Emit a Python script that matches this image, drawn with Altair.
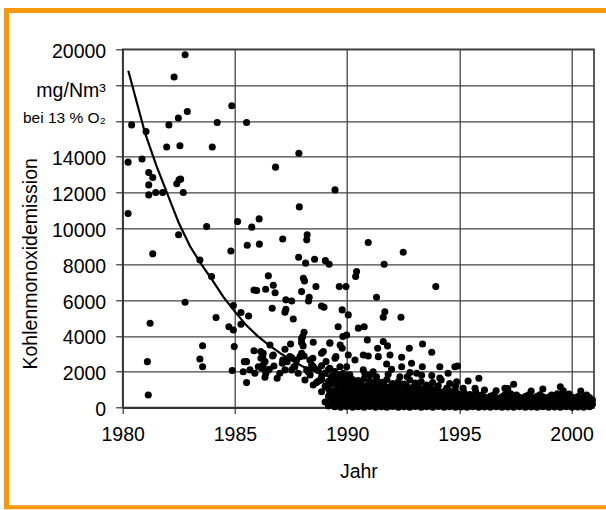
import altair as alt
import pandas as pd

# Individual plant measurements (year, CO emission in mg/Nm3 at 13 % O2)
points_1980_1986 = [
    (1980.24, 13700), (1980.24, 10830), (1980.40, 15780), (1980.86, 13870),
    (1981.04, 15410), (1981.10, 2560), (1981.14, 700), (1981.16, 13120),
    (1981.16, 12430), (1981.16, 11870), (1981.22, 4700), (1981.34, 12840),
    (1981.34, 8580), (1981.47, 12000), (1981.78, 12000), (1981.96, 14540),
    (1982.06, 15780), (1982.29, 18450), (1982.41, 12490), (1982.48, 16160),
    (1982.49, 9650), (1982.51, 12710), (1982.58, 12750), (1982.55, 14610),
    (1982.70, 12000), (1982.78, 19700), (1982.78, 5880), (1982.88, 16530),
    (1983.44, 8240), (1983.44, 2710), (1983.56, 3450), (1983.56, 2280),
    (1983.74, 10100), (1983.96, 7310), (1983.99, 14540), (1984.16, 5020),
    (1984.21, 15910), (1984.73, 4510), (1984.82, 8740), (1984.86, 16850),
    (1984.88, 2060), (1984.93, 5690), (1984.93, 4330), (1984.97, 3400),
    (1985.12, 10380), (1985.27, 5300), (1985.27, 4650), (1985.37, 2000),
    (1985.42, 2560), (1985.52, 15910), (1985.52, 1390), (1985.55, 9060),
    (1985.61, 5110), (1985.75, 10070), (1985.85, 6560), (1985.85, 3170),
    (1985.52, 2560), (1985.67, 2100), (1985.89, 1910),
]

points_1986_1990 = [
    (1985.97, 6530), (1986.08, 10530), (1986.09, 9120), (1986.15, 3120),
    (1986.19, 2190), (1986.24, 2840), (1986.26, 2370), (1986.37, 6600),
    (1986.38, 1910), (1986.49, 7350), (1986.49, 2100), (1986.56, 3490),
    (1986.34, 1690), (1986.66, 5540), (1986.68, 2880), (1986.71, 6830),
    (1986.71, 2930), (1986.74, 2320), (1986.79, 6410), (1986.81, 13420),
    (1986.88, 1630), (1986.26, 3030), (1986.16, 2750), (1986.34, 2560),
    (1986.04, 2280), (1986.53, 2130), (1987.00, 1910), (1987.11, 2470),
    (1987.13, 9410), (1987.13, 2650), (1987.23, 3250), (1987.23, 5320),
    (1987.27, 6010), (1987.27, 5490), (1987.33, 2560), (1987.30, 2650),
    (1987.45, 2840), (1987.23, 2100), (1987.48, 3550), (1987.53, 5950),
    (1987.53, 2780), (1987.53, 2100), (1987.60, 4940), (1987.63, 2280),
    (1987.67, 2280), (1987.75, 2650), (1987.82, 1910), (1987.84, 8390),
    (1987.85, 14200), (1987.87, 11200), (1987.90, 2840), (1987.97, 6470),
    (1987.97, 3830), (1987.97, 3620), (1987.97, 3030), (1988.02, 3960),
    (1988.04, 3440), (1988.05, 7220), (1988.08, 4200), (1988.08, 2880),
    (1988.10, 7070), (1988.12, 1540), (1988.15, 8060), (1988.20, 9360),
    (1988.20, 2100), (1988.22, 9640), (1988.27, 2000), (1988.28, 5950),
    (1988.31, 6160), (1988.34, 2650), (1988.35, 1820), (1988.42, 2370),
    (1988.47, 2750), (1988.49, 3640), (1988.49, 1260), (1988.50, 2280),
    (1988.55, 8280), (1988.61, 6750), (1988.64, 1390), (1988.67, 2100),
    (1988.86, 5670), (1988.86, 3030), (1988.86, 1540), (1988.94, 3120),
    (1988.97, 5600), (1989.03, 8200), (1989.06, 2560), (1989.09, 1160),
    (1989.20, 8000), (1989.23, 3620), (1989.23, 3590), (1989.23, 2190),
    (1989.23, 790), (1989.31, 420), (1989.46, 12150), (1989.46, 2750),
    (1989.50, 2840), (1989.53, 600), (1989.60, 4510), (1989.65, 6750),
    (1989.68, 2280), (1989.69, 3490), (1989.78, 5450), (1989.78, 3310),
    (1989.81, 3960), (1989.83, 1910), (1989.90, 230), (1989.95, 6750),
    (1989.98, 4050), (1989.98, 2280),
]

points_1990_1996 = [
    (1990.05, 5170), (1990.05, 2930), (1990.12, 1820), (1990.35, 2650),
    (1990.38, 7310), (1990.42, 7590), (1990.50, 4430), (1990.72, 2930),
    (1990.72, 2100), (1990.76, 4510), (1990.90, 3770), (1990.94, 9210),
    (1990.94, 2880), (1991.02, 1820), (1991.31, 6160), (1991.31, 1720),
    (1991.36, 3310), (1991.39, 2840), (1991.61, 5040), (1991.61, 3680),
    (1991.65, 8000), (1991.68, 5350), (1991.76, 2430), (1991.80, 3440),
    (1991.91, 2930), (1991.98, 2130), (1992.35, 1720), (1992.40, 5040),
    (1992.43, 2810), (1992.43, 2280), (1992.50, 8670), (1992.68, 1720),
    (1992.77, 3310), (1992.87, 2470), (1993.10, 1910), (1993.35, 2280),
    (1993.36, 3550), (1993.77, 3080), (1993.77, 1780), (1993.95, 6750),
    (1994.13, 2280), (1994.50, 1910), (1994.80, 2280), (1994.92, 2320),
    (1994.88, 1440), (1995.39, 1480), (1995.87, 1630), (1995.17, 1070),
    (1995.70, 1070), (1990.79, 1900), (1991.16, 2000), (1991.83, 1850),
    (1992.80, 1950), (1993.32, 1800), (1994.13, 1650),
]

# Densely packed measurements near the bottom, one column of values per date
dense_1989_1995 = [
    (1988.72, [1480, 2060]),
    (1988.86, [880, 1720, 2330]),
    (1989.02, [310, 1180, 1930]),
    (1989.17, [90, 620, 1040, 1470, 2120]),
    (1989.31, [260, 790, 1320, 1760]),
    (1989.45, [40, 470, 960, 1530, 2010]),
    (1989.58, [210, 690, 1210, 1690]),
    (1989.71, [20, 410, 880, 1370, 1840]),
    (1989.84, [160, 620, 1090, 1570]),
    (1989.97, [60, 340, 790, 1260, 1660]),
    (1990.11, [190, 560, 1010, 1420]),
    (1990.24, [10, 310, 720, 1140, 1560]),
    (1990.37, [110, 490, 910, 1290]),
    (1990.49, [40, 360, 740, 1120, 1510]),
    (1990.62, [210, 560, 940, 1360]),
    (1990.76, [20, 340, 710, 1090, 1620]),
    (1990.89, [140, 510, 860, 1240]),
    (1991.01, [60, 360, 690, 1060, 1460]),
    (1991.14, [190, 540, 910, 1310]),
    (1991.27, [10, 290, 660, 990, 1510]),
    (1991.39, [160, 460, 810, 1190]),
    (1991.52, [40, 340, 710, 1040, 1410]),
    (1991.64, [210, 510, 890, 1260]),
    (1991.77, [20, 310, 640, 1010, 1560]),
    (1991.90, [140, 460, 790, 1160]),
    (1992.02, [60, 340, 690, 1010, 1340]),
    (1992.15, [190, 510, 840, 1210]),
    (1992.28, [10, 310, 610, 960, 1440]),
    (1992.41, [160, 440, 760, 1090]),
    (1992.53, [40, 360, 660, 990, 1310]),
    (1992.66, [210, 490, 840, 1190]),
    (1992.79, [20, 290, 610, 940, 1540]),
    (1992.91, [140, 460, 790, 1110]),
    (1993.04, [60, 340, 660, 990, 1360]),
    (1993.17, [190, 510, 810, 1140]),
    (1993.30, [10, 310, 590, 910, 1440]),
    (1993.42, [160, 440, 760, 1060]),
    (1993.55, [40, 360, 640, 990, 1260]),
    (1993.68, [210, 490, 810, 1140]),
    (1993.81, [20, 310, 590, 890, 1390]),
    (1993.93, [140, 460, 710, 1010]),
    (1994.06, [60, 340, 640, 940, 1210]),
    (1994.19, [190, 510, 790, 1540]),
    (1994.32, [10, 290, 610, 890]),
    (1994.44, [160, 440, 760, 1090]),
    (1994.57, [40, 360, 640, 940, 1340]),
    (1994.70, [210, 490, 810]),
    (1994.83, [20, 310, 590, 910, 1190]),
    (1994.95, [140, 460, 740]),
]

dense_1995_2001 = [
    (1995.08, [30, 330, 610]),
    (1995.21, [170, 460, 830]),
    (1995.34, [20, 300, 590]),
    (1995.47, [150, 440, 720]),
    (1995.60, [40, 320, 600]),
    (1995.73, [180, 470, 860]),
    (1995.86, [10, 290, 560]),
    (1995.99, [160, 430, 690]),
    (1996.12, [30, 310, 580, 980]),
    (1996.25, [170, 450]),
    (1996.38, [20, 300, 620]),
    (1996.51, [150, 430, 700]),
    (1996.64, [40, 320, 560, 940]),
    (1996.77, [180, 450]),
    (1996.90, [10, 290, 600]),
    (1997.03, [160, 440, 730, 1070]),
    (1997.16, [30, 310, 590, 1060]),
    (1997.29, [170, 460, 760]),
    (1997.42, [20, 300, 580, 1300]),
    (1997.55, [150, 430, 700]),
    (1997.68, [40, 320, 570]),
    (1997.81, [180, 460]),
    (1997.94, [10, 290, 610]),
    (1998.07, [160, 440, 700]),
    (1998.20, [30, 310, 590, 920]),
    (1998.33, [170, 450]),
    (1998.46, [20, 300, 620]),
    (1998.59, [150, 430, 710]),
    (1998.72, [40, 320, 600, 1030]),
    (1998.85, [180, 460]),
    (1998.98, [10, 290, 580]),
    (1999.11, [160, 440, 700]),
    (1999.24, [30, 310, 600]),
    (1999.37, [170, 450, 760]),
    (1999.50, [20, 300, 590, 1160]),
    (1999.63, [150, 430, 710, 940]),
    (1999.76, [40, 320, 600]),
    (1999.89, [180, 460, 750]),
    (2000.02, [10, 290, 590]),
    (2000.15, [160, 440]),
    (2000.28, [30, 310, 610]),
    (2000.41, [170, 450, 920]),
    (2000.54, [20, 300, 580]),
    (2000.67, [150, 430, 700]),
    (2000.80, [40, 320, 560]),
    (2000.93, [180, 420]),
]

# Fitted decay curve
curve_years = [1980.25, 1981.0, 1981.5, 1982.0, 1982.5, 1983.0, 1983.5, 1984.0,
               1984.5, 1985.0, 1985.5, 1986.0, 1986.5, 1987.0, 1987.5, 1988.0,
               1988.5, 1989.0, 1989.5, 1990.0, 1990.5, 1991.0, 1991.5, 1992.0,
               1992.5, 1993.0]
curve_values = [18800, 15300, 13500, 11900, 10300, 9000, 8000, 7100,
                6150, 5350, 4600, 4000, 3500, 3050, 2650, 2300,
                2050, 1800, 1600, 1400, 1250, 1100, 980, 870,
                780, 700]

x_ticks = [1980, 1985, 1990, 1995, 2000]
y_ticks = [0, 2000, 4000, 6000, 8000, 10000, 12000, 14000, 16000, 18000, 20000]

# Unit annotation placed in the tick-label column of the y axis
unit_values = [18000, 16000]
unit_labels = ["mg/Nm³", "bei 13 % O₂"]
unit_sizes = [19.5, 15.5]
unit_shift = [6, -3]

rows = [{"jahr": j, "wert": w} for j, w in points_1980_1986 + points_1986_1990 + points_1990_1996]
for j, werte in dense_1989_1995 + dense_1995_2001:
    rows.extend({"jahr": j, "wert": w} for w in werte)
df_points = pd.DataFrame(rows)
df_curve = pd.DataFrame({"jahr": curve_years, "wert": curve_values})
df_units = pd.DataFrame({"wert": unit_values, "text": unit_labels})

FONT = "Liberation Sans"
ORANGE = "#F7980A"

x_enc = alt.X(
    "jahr:Q",
    scale=alt.Scale(domain=[1980, 2001], nice=False, zero=False),
    axis=alt.Axis(
        values=x_ticks, format="d", title="Jahr", grid=True,
        tickSize=6, labelPadding=12, titlePadding=18,
        domainWidth=2.2, labelFlush=False, labelOverlap=False,
    ),
)
y_enc = alt.Y(
    "wert:Q",
    scale=alt.Scale(domain=[0, 20000], nice=False),
    axis=alt.Axis(
        values=y_ticks, tickCount=11, grid=True, tickSize=7, labelPadding=10,
        labelOverlap=False, labelFlush=False, labelOffset=2,
        labelExpr="(datum.value == 18000 || datum.value == 16000) ? '' : format(datum.value, 'd')",
        title="Kohlenmonoxidemission", titleAngle=270, titleAlign="center",
        titleBaseline="middle", titleX=-92, titleY=214,
    ),
)

points = alt.Chart(df_points).mark_circle(size=50, color="black", opacity=1).encode(x=x_enc, y=y_enc)
curve = alt.Chart(df_curve).mark_line(color="black", strokeWidth=2.2).encode(x=x_enc, y=y_enc)

unit_text = [
    alt.Chart(df_units.iloc[[i]]).mark_text(
        align="right", baseline="middle", font=FONT, fontSize=unit_sizes[i],
        color="black", dy=unit_shift[i],
    ).encode(x=alt.value(-17), y=y_enc, text="text:N")
    for i in range(len(unit_values))
]

frame_data = pd.DataFrame({"k": [0]})
frame_left = alt.Chart(frame_data).mark_rule(color=ORANGE, strokeWidth=5).encode(
    x=alt.value(-116.2), y=alt.value(-38.8), y2=alt.value(459)
)
frame_top = alt.Chart(frame_data).mark_rule(color=ORANGE, strokeWidth=5).encode(
    x=alt.value(-118.7), x2=alt.value(484), y=alt.value(-38.8)
)
frame_bottom = alt.Chart(frame_data).mark_rule(color=ORANGE, strokeWidth=4).encode(
    x=alt.value(-118.7), x2=alt.value(484), y=alt.value(458)
)

chart = (
    alt.layer(points, curve, *unit_text, frame_left, frame_top, frame_bottom)
    .properties(
        width=471.3, height=358.2,
        autosize=alt.AutoSizeParams(type="none"),
        padding={"left": 122.7, "top": 49.3, "right": 12, "bottom": 102.5},
        background="white",
    )
    .configure_view(stroke="#333333", strokeWidth=1.6)
    .configure_axis(
        gridColor="#444444", gridWidth=1.3, gridOpacity=1,
        domainColor="#333333", tickColor="#333333", tickWidth=1.2,
        labelFont=FONT, titleFont=FONT, labelFontSize=19.5, titleFontSize=19.5,
        labelColor="black", titleColor="black", titleFontWeight="normal",
    )
)

chart.save("out.html", embed_options={"renderer": "svg", "actions": False})
